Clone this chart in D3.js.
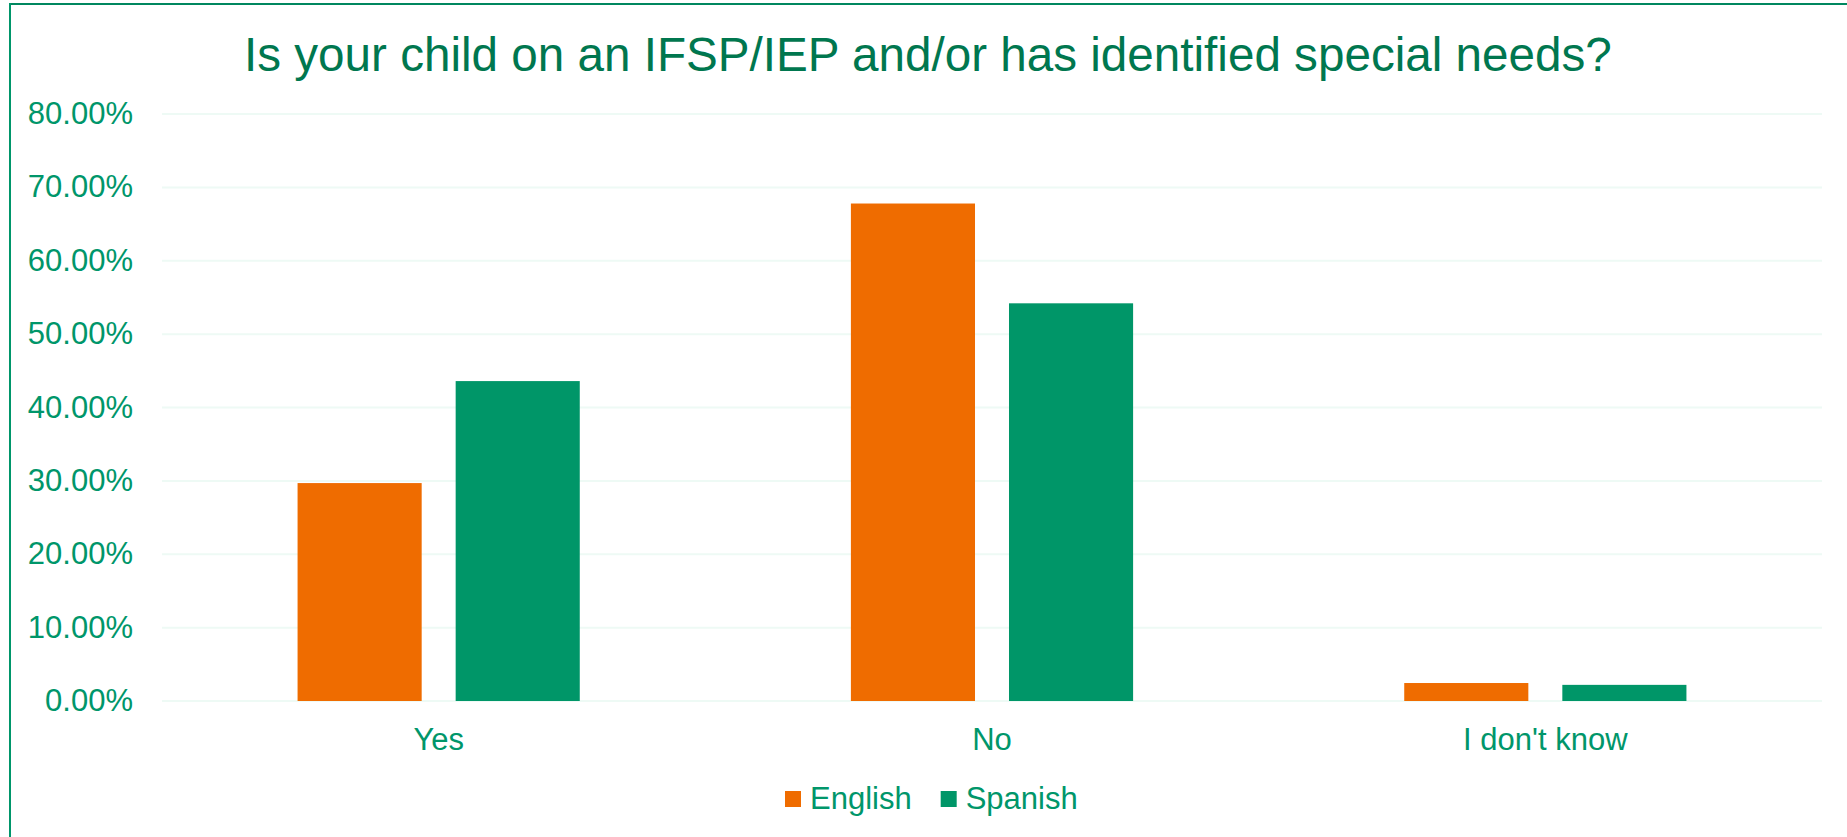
<!doctype html>
<html>
<head>
<meta charset="utf-8">
<title>IFSP/IEP</title>
<script src="https://d3js.org/d3.v7.min.js"></script>
<style>
  body { margin: 0; background: #fff; }
  svg { display: block; font-family: Arial, "Liberation Sans", sans-serif; }
  .grid line { stroke: #eefaf5; stroke-width: 2px; }
  .label { fill: #00966a; }
</style>
</head>
<body>
<script>
// chart data
var categories = ["Yes", "No", "I don't know"];
var series = ["English", "Spanish"];
var english = [0.297, 0.678, 0.0245];
var spanish = [0.436, 0.542, 0.022];
var yTicks = [0, 0.1, 0.2, 0.3, 0.4, 0.5, 0.6, 0.7, 0.8];
var colors = ["#ef6c00", "#009668"];

var w = 1847, h = 837;
var values = [english, spanish];

var svg = d3.select("body")
    .append("svg")
    .attr("width", w)
    .attr("height", h);

// frame (only top and left edges show)
svg.append("line")
    .attr("x1", 9).attr("x2", w).attr("y1", 4).attr("y2", 4)
    .attr("stroke", "#00875f").attr("stroke-width", 2);
svg.append("line")
    .attr("x1", 10).attr("x2", 10).attr("y1", 3).attr("y2", h)
    .attr("stroke", "#00966a").attr("stroke-width", 2);

// title, sized to span the same width as the original
var title = svg.append("text")
    .attr("x", 244)
    .attr("y", 71)
    .style("font-size", "50px")
    .style("fill", "#00774f")
    .text("Is your child on an IFSP/IEP and/or has identified special needs?");
var tw = title.node().getComputedTextLength();
title.style("font-size", (50 * 1368 / tw) + "px");

var y = d3.scaleLinear()
    .domain([0, 0.8])
    .range([701, 114]);

var x0 = d3.scaleBand()
    .domain(categories)
    .range([162, 1822])
    .paddingInner(0.49)
    .paddingOuter(0.245);

var x1 = d3.scaleBand()
    .domain(series)
    .range([0, x0.bandwidth()])
    .paddingInner(0.215);

// gridlines
svg.append("g")
    .attr("class", "grid")
    .selectAll("line")
    .data(yTicks)
    .enter().append("line")
    .attr("x1", 162)
    .attr("x2", 1822)
    .attr("y1", function(d) { return y(d); })
    .attr("y2", function(d) { return y(d); });

// y labels
svg.append("g")
    .selectAll("text")
    .data(yTicks)
    .enter().append("text")
    .attr("class", "label")
    .attr("x", 133)
    .attr("y", function(d) { return y(d) + 10; })
    .attr("text-anchor", "end")
    .style("font-size", "31px")
    .text(function(d) { return d3.format(".2%")(d); });

// bars
var groups = svg.append("g")
    .selectAll("g")
    .data(categories)
    .enter().append("g")
    .attr("transform", function(d) { return "translate(" + x0(d) + ",0)"; });

groups.selectAll("rect")
    .data(function(d, i) {
        return series.map(function(s, j) { return { s: s, v: values[j][i], j: j }; });
    })
    .enter().append("rect")
    .attr("x", function(d) { return x1(d.s); })
    .attr("width", x1.bandwidth())
    .attr("y", function(d) { return y(d.v); })
    .attr("height", function(d) { return y(0) - y(d.v); })
    .attr("fill", function(d) { return colors[d.j]; });

// x labels
svg.append("g")
    .selectAll("text")
    .data(categories)
    .enter().append("text")
    .attr("class", "label")
    .attr("x", function(d) { return x0(d) + x0.bandwidth() / 2; })
    .attr("y", 750)
    .attr("text-anchor", "middle")
    .style("font-size", "31px")
    .text(function(d) { return d; });

// legend
var legend = svg.append("g");
var lx = 785;
series.forEach(function(s, i) {
    legend.append("rect")
        .attr("x", lx)
        .attr("y", 791)
        .attr("width", 16)
        .attr("height", 16)
        .attr("fill", colors[i]);
    var t = legend.append("text")
        .attr("class", "label")
        .attr("x", lx + 25)
        .attr("y", 809)
        .style("font-size", "31px")
        .text(s);
    lx += 25 + t.node().getComputedTextLength() + 29;
});
</script>
</body>
</html>
